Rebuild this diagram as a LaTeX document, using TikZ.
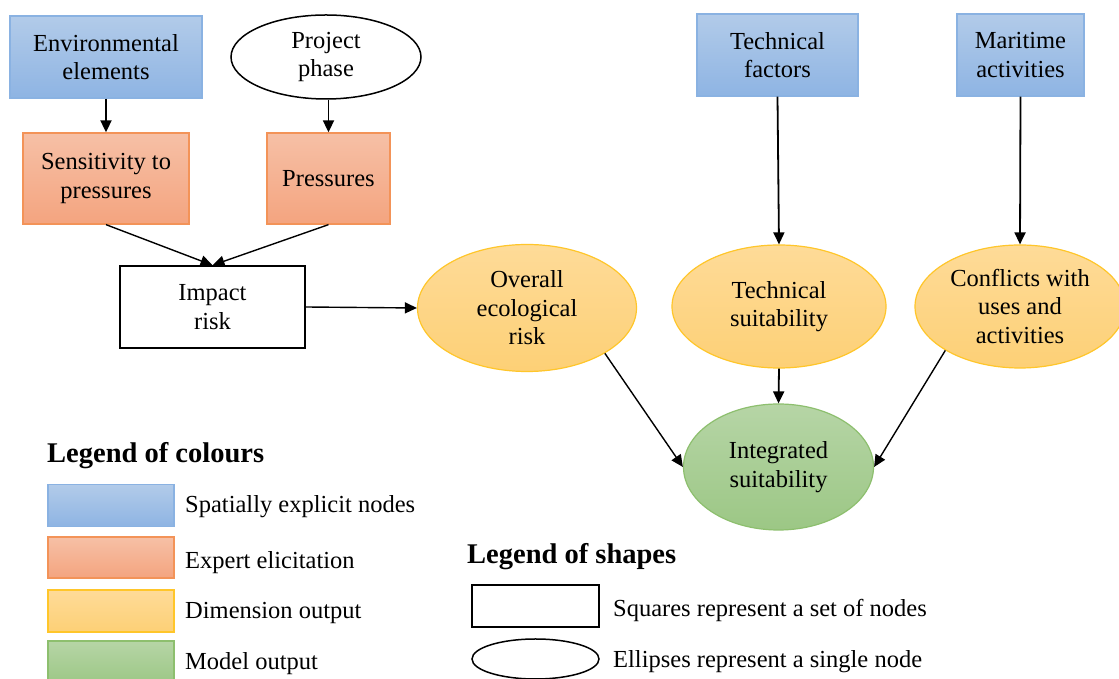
\documentclass[tikz,border=0pt]{standalone}
\usepackage{fontspec}
\setmainfont{Liberation Serif}
\usetikzlibrary{shapes.geometric,arrows.meta}
\definecolor{bluetop}{HTML}{B2CBE9}
\definecolor{bluebot}{HTML}{8EB4E3}
\definecolor{blueedge}{HTML}{8AB2E2}
\definecolor{ortop}{HTML}{F6C0A6}
\definecolor{orbot}{HTML}{F4A47F}
\definecolor{oredge}{HTML}{F39358}
\definecolor{yeltop}{HTML}{FEDB98}
\definecolor{yelbot}{HTML}{FDD076}
\definecolor{yeledge}{HTML}{FFC62A}
\definecolor{grtop}{HTML}{B6D5A6}
\definecolor{grbot}{HTML}{9CC785}
\definecolor{gredge}{HTML}{8DBF6E}
\tikzset{
  x=1pt,y=1pt,
  txt/.style={font=\fontsize{24.5}{28.5}\selectfont, align=center, text=black, inner sep=0pt},
  bluebox/.style={txt, rectangle, draw=blueedge, line width=1.3pt, top color=bluetop, bottom color=bluebot},
  orbox/.style={txt, rectangle, draw=oredge, line width=1.3pt, top color=ortop, bottom color=orbot},
  whitebox/.style={txt, rectangle, draw=black, line width=1.5pt, fill=white},
  whiteell/.style={txt, ellipse, draw=black, line width=1.5pt, fill=white},
  yelell/.style={txt, ellipse, draw=yeledge, line width=1.2pt, top color=yeltop, bottom color=yelbot},
  grell/.style={txt, ellipse, draw=gredge, line width=1.2pt, top color=grtop, bottom color=grbot},
  arr/.style={line width=1.8pt, -{Triangle[length=12pt,width=11pt]}},
  darr/.style={line width=1.4pt, -{Triangle[length=12pt,width=11pt]}},
  lbl/.style={font=\fontsize{24.5}{28.5}\selectfont, anchor=west, inner sep=0pt, text=black},
  ttl/.style={font=\fontsize{28.5}{32}\selectfont\bfseries, anchor=west, inner sep=0pt, text=black},
}
\begin{document}
\begin{tikzpicture}
\clip (0,0) rectangle (1119,679);
\fill[white] (0,0) rectangle (1119,679);
% top row
\node[bluebox, minimum width=192pt, minimum height=82pt] (env) at (106,622) {Environmental\\elements};
\node[whiteell, minimum width=190pt, minimum height=84pt] (proj) at (326,622) {Project\\phase};
\node[bluebox, minimum width=161pt, minimum height=82pt] (techf) at (777.5,624) {Technical\\factors};
\node[bluebox, minimum width=127pt, minimum height=82pt] (mar) at (1020.5,624) {Maritime\\activities};
% second row
\node[orbox, minimum width=166pt, minimum height=91pt] (sens) at (106,500.5) {Sensitivity to\\pressures};
\node[orbox, minimum width=123pt, minimum height=91pt] (pres) at (328.5,500.5) {Pressures};
% impact
\node[whitebox, minimum width=185pt, minimum height=82pt] (imp) at (212.5,372) {Impact\\risk};
% dimension outputs
\node[yelell, minimum width=219pt, minimum height=127pt] (over) at (527,371) {Overall\\ecological\\risk};
\node[yelell, minimum width=214pt, minimum height=123pt] (techs) at (779,372.5) {Technical\\suitability};
\node[yelell, minimum width=210pt, minimum height=123pt] (conf) at (1020,372.5) {Conflicts with\\uses and\\activities};
% model output
\node[grell, minimum width=190pt, minimum height=126pt] (integ) at (778.5,212) {Integrated\\suitability};
% connectors
\draw[arr] (env.south) -- (sens.north);
\draw[arr] (proj.south -| pres.north) -- (pres.north);
\draw[darr] (sens.south) -- (imp.north);
\draw[darr] (pres.south) -- (imp.north);
\draw[darr] (imp.east) -- (over.west);
\draw[arr] (techf.south) -- (techs.north);
\draw[arr] (mar.south) -- (conf.north);
\draw[arr] (techs.south) -- (integ.north);
\draw[darr] (over.south east) -- (integ.west);
\draw[darr] (conf.south west) -- (integ.east);
% legend of colours
\node[ttl] (lc) at (47,223) {Legend of colours};
\node[rectangle, draw=blueedge, line width=1.3pt, top color=bluetop, bottom color=bluebot, minimum width=126pt, minimum height=42pt, inner sep=0pt] (sw1) at (111,173.5) {};
\node[rectangle, draw=oredge, line width=1.3pt, top color=ortop, bottom color=orbot, minimum width=126pt, minimum height=41pt, inner sep=0pt] (sw2) at (111,121.5) {};
\node[rectangle, draw=yeledge, line width=1.3pt, top color=yeltop, bottom color=yelbot, minimum width=126pt, minimum height=42pt, inner sep=0pt] (sw3) at (111,68) {};
\node[rectangle, draw=gredge, line width=1.3pt, top color=grtop, bottom color=grbot, minimum width=126pt, minimum height=43pt, inner sep=0pt] (sw4) at (111,16.5) {};
\node[lbl] (l1) at (185,172) {Spatially explicit nodes};
\node[lbl] (l2) at (185,116) {Expert elicitation};
\node[lbl] (l3) at (185,66) {Dimension output};
\node[lbl] (l4) at (185,15) {Model output};
% legend of shapes
\node[ttl] (ls) at (467,122) {Legend of shapes};
\node[rectangle, draw=black, line width=1.5pt, minimum width=127pt, minimum height=42pt, inner sep=0pt] (shr) at (535.5,73) {};
\node[ellipse, draw=black, line width=1.5pt, minimum width=127pt, minimum height=40pt, inner sep=0pt] (she) at (535.5,20) {};
\node[lbl] (l5) at (613,69) {Squares represent a set of nodes};
\node[lbl] (l6) at (613,17) {Ellipses represent a single node};
\end{tikzpicture}
\end{document}
